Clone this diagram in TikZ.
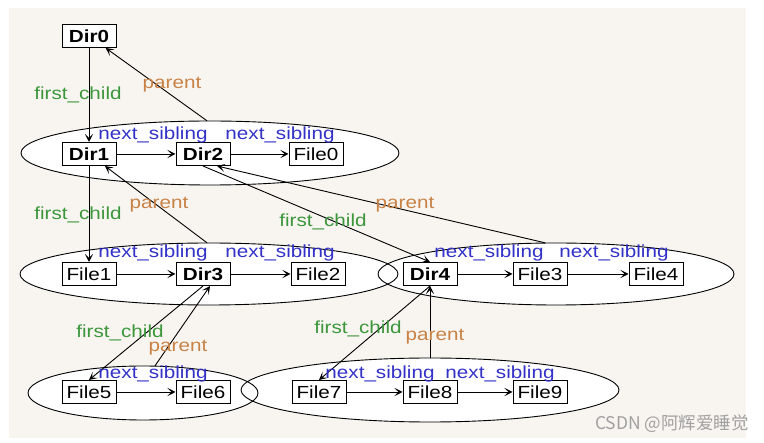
\documentclass[tikz,border=0pt]{standalone}
\usepackage{fontspec}
\setmainfont[FakeStretch=1.18]{Liberation Sans}
\newfontfamily\cjkfont{Noto Sans CJK SC}
\usetikzlibrary{shapes.geometric,arrows.meta}
\definecolor{panel}{RGB}{248,245,240}
\definecolor{fcgreen}{RGB}{60,150,60}
\definecolor{parbrown}{RGB}{200,130,70}
\definecolor{nsblue}{RGB}{50,50,200}
\definecolor{wmgray}{RGB}{160,160,160}
\begin{document}
\begin{tikzpicture}[x=1pt,y=-1pt,
  box/.style={draw,fill=white,line width=1pt,minimum width=54pt,minimum height=23pt,inner sep=0pt,font=\fontsize{17.5}{20}\selectfont},
  dirbox/.style={box,font=\fontsize{17.5}{20}\selectfont\bfseries},
  grp/.style={ellipse,fill=white,draw=none,inner sep=0pt},
  grpline/.style={line width=0.9pt},
  link/.style={line width=0.9pt,-{Stealth[length=8pt,width=8pt,inset=4pt]}},
  lab/.style={inner sep=0pt,font=\fontsize{17.5}{20}\selectfont},
  fc/.style={lab,text=fcgreen},
  par/.style={lab,text=parbrown},
  ns/.style={lab,text=nsblue}]
\useasboundingbox (0,0) rectangle (764,443);
\fill[white] (0,0) rectangle (764,443);
\fill[panel] (9,8) rectangle (746,438);
% group ellipses (fills)
\node[grp,minimum width=378pt,minimum height=64pt] (E1) at (210,153) {};
\node[grp,minimum width=378pt,minimum height=62pt] (E2) at (209,274) {};
\node[grp,minimum width=356pt,minimum height=62pt] (E3) at (556,274) {};
\node[grp,minimum width=230pt,minimum height=54pt] (E4) at (143,393) {};
\node[grp,minimum width=378pt,minimum height=64pt] (E5) at (430,390) {};
% outlines
\draw[grpline] (E1.center) ellipse [x radius=189, y radius=32];
\draw[grpline] (E2.center) ellipse [x radius=189, y radius=31];
\draw[grpline] (E3.center) ellipse [x radius=178, y radius=31];
\draw[grpline] (E4.center) ellipse [x radius=115, y radius=27];
\draw[grpline] (E5.center) ellipse [x radius=189, y radius=32];
% boxes
\node[dirbox] (D0) at (89,36) {Dir0};
\node[dirbox] (D1) at (89,154) {Dir1};
\node[dirbox] (D2) at (203,154) {Dir2};
\node[box] (F0) at (316,154) {File0};
\node[box] (F1) at (89,274) {File1};
\node[dirbox] (D3) at (203,274) {Dir3};
\node[box] (F2) at (318,274) {File2};
\node[dirbox] (D4) at (430,274) {Dir4};
\node[box] (F3) at (540,274) {File3};
\node[box] (F4) at (656,274) {File4};
\node[box] (F5) at (89,392) {File5};
\node[box] (F6) at (203,392) {File6};
\node[box] (F7) at (319,392) {File7};
\node[box] (F8) at (430,392) {File8};
\node[box] (F9) at (540,392) {File9};
% first_child links
\draw[link] (D0) -- (D1);
\draw[link] (D1) -- (F1);
\draw[link] (D2.south) -- (D4.north);
\draw[link] (D3.south) -- (F5.north);
\draw[link] (D4.south) -- (F7.north);
% parent links
\draw[link] ([xshift=-3pt]E1.north) -- (D0);
\draw[link] ([xshift=-2pt]E2.north) -- (D1);
\draw[link] ([xshift=-11pt]E3.north) -- ([xshift=14pt]D2.south);
\draw[link] ([xshift=12pt]E4.north) -- ([xshift=7pt]D3.south);
\draw[link] (E5.north) -- (D4.south);
% next_sibling links
\draw[link] (D1) -- (D2);
\draw[link] (D2) -- (F0);
\draw[link] (F1) -- (D3);
\draw[link] (D3) -- (F2);
\draw[link] (D4) -- (F3);
\draw[link] (F3) -- (F4);
\draw[link] (F5) -- (F6);
\draw[link] (F7) -- (F8);
\draw[link] (F8) -- (F9);
% labels
\node[fc] (l1) at (78,95) {first\_child};
\node[par] (l2) at (172,85) {parent};
\node[ns] (l3) at (153,135) {next\_sibling};
\node[ns] (l4) at (280,135) {next\_sibling};
\node[fc] (l5) at (78,215) {first\_child};
\node[par] (l6) at (159,205) {parent};
\node[fc] (l7) at (323,222) {first\_child};
\node[par] (l8) at (405,205) {parent};
\node[ns] (l9) at (153,253) {next\_sibling};
\node[ns] (l10) at (280,253) {next\_sibling};
\node[ns] (l11) at (489,253) {next\_sibling};
\node[ns] (l12) at (614,253) {next\_sibling};
\node[fc] (l13) at (120,333) {first\_child};
\node[par] (l14) at (178,348) {parent};
\node[fc] (l15) at (358,329) {first\_child};
\node[par] (l16) at (435,337) {parent};
\node[ns] (l17) at (153,374) {next\_sibling};
\node[ns] (l18) at (380,374) {next\_sibling};
\node[ns] (l19) at (500,374) {next\_sibling};
% watermark
\node[anchor=east,inner sep=0pt,text=wmgray,font=\cjkfont\fontsize{17.5}{20}\selectfont] (wm) at (749,424) {CSDN @阿辉爱睡觉};
\end{tikzpicture}
\end{document}
